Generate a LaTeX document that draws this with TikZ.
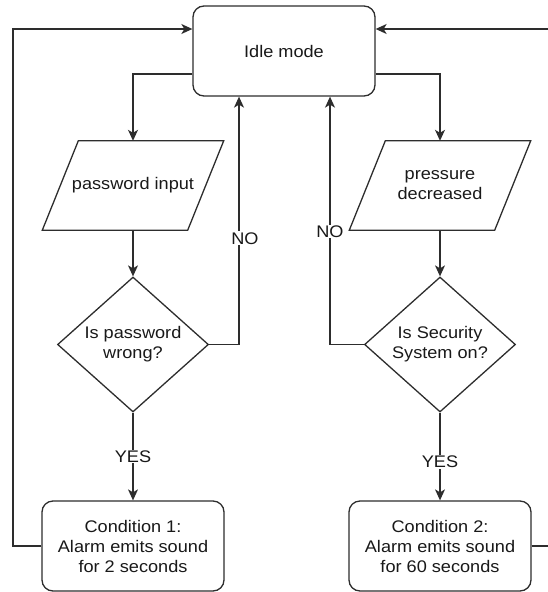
\documentclass[tikz,border=0pt]{standalone}
\usepackage{fontspec}
\setmainfont{Liberation Sans}[FakeStretch=1.08]
\usetikzlibrary{shapes.geometric,arrows.meta}
\definecolor{ln}{RGB}{45,45,45}
\definecolor{tx}{RGB}{25,25,25}
\tikzset{
  box/.style={draw=ln, line width=1.3pt, rounded corners=11pt, minimum width=182pt,
    minimum height=90pt, align=center, fill=white, text=tx, inner sep=0pt},
  io/.style={rectangle, minimum width=145pt, minimum height=89pt, align=center,
    inner sep=0pt, text=tx},
  ioline/.style={draw=ln, line width=1.3pt, line join=miter},
  dec/.style={diamond, draw=ln, line width=1.3pt, minimum width=151pt,
    minimum height=135pt, inner sep=0pt, align=center, text=tx},
  arr/.style={draw=ln, line width=1.3pt, -{Stealth[length=11pt,width=10pt,inset=3pt]}},
  lbl/.style={fill=white, inner sep=1pt, text=tx}
}
\begin{document}
\begin{tikzpicture}[x=1pt,y=-1pt,font=\fontsize{16.8}{20}\selectfont]
\useasboundingbox (0,0) rectangle (548,592);
\node[box] (idle) at (284,51) {Idle mode};
\node[io] (p1) at (133,185.5) {password input};
\node[io] (p2) at (440,185.5) {pressure\\decreased};
\foreach \p in {p1,p2}{
  \draw[ioline] ([xshift=18pt]\p.north west) -- ([xshift=18pt]\p.north east)
    -- ([xshift=-18pt]\p.south east) -- ([xshift=-18pt]\p.south west) -- cycle;
}
\node[dec] (d1) at (133,344.5) {Is password\\wrong?};
\node[dec] (d2) at (440,344.5) {Is Security\\System on?};
\node[box] (c1) at (133,546) {Condition 1:\\Alarm emits sound\\for 2 seconds};
\node[box] (c2) at (440,546) {Condition 2:\\Alarm emits sound\\for 60 seconds};
\coordinate (lb) at (13,546);
\coordinate (rb) at (552,546);
\draw[arr] ([yshift=-23pt]idle.west) -| (p1.north);
\draw[arr] ([yshift=-23pt]idle.east) -| (p2.north);
\draw[arr] (p1.south) -- (d1.north);
\draw[arr] (p2.south) -- (d2.north);
\draw[arr] (d1.south) -- node[lbl]{YES} (c1.north);
\draw[arr] (d2.south) -- node[lbl,pos=0.56]{YES} (c2.north);
\draw[arr] (d1.east) -| node[lbl,pos=0.714,xshift=6pt]{NO} ([xshift=-45pt]idle.south);
\draw[arr] (d2.west) -| node[lbl,pos=0.728]{NO} ([xshift=46pt]idle.south);
\draw[arr] (c1.west) -- (lb) |- ([yshift=22pt]idle.west);
\draw[arr] (c2.east) -- (rb) |- ([yshift=22pt]idle.east);
\end{tikzpicture}
\end{document}
